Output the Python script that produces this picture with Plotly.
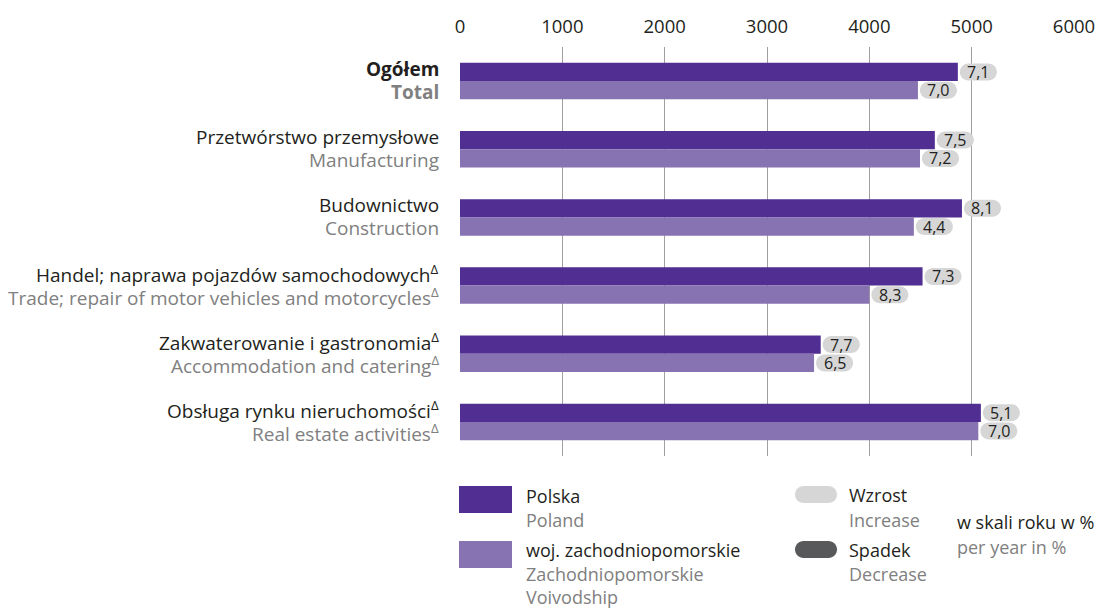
import plotly.graph_objects as go

# --- data ---
categories_pl = [
    "<b>Ogółem</b>",
    "Przetwórstwo przemysłowe",
    "Budownictwo",
    "Handel; naprawa pojazdów samochodowych<sup>Δ</sup>",
    "Zakwaterowanie i gastronomia<sup>Δ</sup>",
    "Obsługa rynku nieruchomości<sup>Δ</sup>",
]
categories_en = [
    "<b>Total</b>",
    "Manufacturing",
    "Construction",
    "Trade; repair of motor vehicles and motorcycles<sup>Δ</sup>",
    "Accommodation and catering<sup>Δ</sup>",
    "Real estate activities<sup>Δ</sup>",
]
poland = [4865, 4640, 4905, 4520, 3525, 5090]
region = [4475, 4495, 4435, 4000, 3460, 5065]
poland_change = [7.1, 7.5, 8.1, 7.3, 7.7, 5.1]
region_change = [7.0, 7.2, 4.4, 8.3, 6.5, 7.0]
x_ticks = [0, 1000, 2000, 3000, 4000, 5000, 6000]

# --- style ---
C_PL = "#512E91"
C_REG = "#8773B2"
C_UP = "#D6D6D7"
C_DOWN = "#58595B"
C_TXT = "#231F20"
C_GREY = "#808080"
FONT = "Open Sans"

W, H = 1104, 609
OFF = 8  # page body margin
L, R, T, B = 460, 1074, 47, 456
BARGAP = 0.464
bw = (1 - BARGAP) / 2


def px(x):
    return (x - L) / (R - L)


def py(y):
    return (B - y) / (B - T)


def pill_path(x0, w=37, h=17):
    r = h / 2
    k = r * 0.5523
    x1 = x0 + w
    return (f"M {x0 + r},{-r} L {x1 - r},{-r} "
            f"C {x1 - r + k},{-r} {x1},{-k} {x1},0 "
            f"C {x1},{k} {x1 - r + k},{r} {x1 - r},{r} "
            f"L {x0 + r},{r} "
            f"C {x0 + r - k},{r} {x0},{k} {x0},0 "
            f"C {x0},{-k} {x0 + r - k},{-r} {x0 + r},{-r} Z")


idx = list(range(len(poland)))

fig = go.Figure()
fig.add_trace(go.Bar(y=idx, x=poland, orientation="h", marker_color=C_PL,
                     name="Polska", marker_line_width=0))
fig.add_trace(go.Bar(y=idx, x=region, orientation="h", marker_color=C_REG,
                     name="woj. zachodniopomorskie", marker_line_width=0))

shapes = []
annotations = []

# category labels, two lines each
for i, (a, b) in enumerate(zip(categories_pl, categories_en)):
    for txt, ys, col in [(a, 12, C_TXT), (b, -11, C_GREY)]:
        annotations.append(dict(x=px(441), y=i, xref="paper", yref="y", yshift=ys,
                                text=txt, showarrow=False, xanchor="right",
                                yanchor="middle", font=dict(size=19, color=col)))

# change pills
for vals, chg, off in [(poland, poland_change, -bw / 2), (region, region_change, bw / 2)]:
    for i, (v, c) in enumerate(zip(vals, chg)):
        shapes.append(dict(type="path", xref="x", yref="y", xsizemode="pixel",
                           ysizemode="pixel", xanchor=v, yanchor=i + off,
                           path=pill_path(2), fillcolor=C_UP if c >= 0 else C_DOWN,
                           line_width=0, layer="above"))
        annotations.append(dict(x=v, y=i + off, xref="x", yref="y", xshift=20.5,
                                text=f"{c:.1f}".replace(".", ","), showarrow=False,
                                height=16,
                                font=dict(size=16, color=C_TXT if c >= 0 else "white"),
                                xanchor="center", yanchor="middle"))

# legend (drawn by hand)
shapes.append(dict(type="rect", xref="paper", yref="paper", x0=px(459), x1=px(512),
                   y0=py(513), y1=py(486), fillcolor=C_PL, line_width=0))
shapes.append(dict(type="rect", xref="paper", yref="paper", x0=px(459), x1=px(512),
                   y0=py(568), y1=py(541), fillcolor=C_REG, line_width=0))
for yy, col in [(494.5, C_UP), (549.5, C_DOWN)]:
    shapes.append(dict(type="path", xref="paper", yref="paper", xsizemode="pixel",
                       ysizemode="pixel", xanchor=px(795), yanchor=py(yy),
                       path=pill_path(0, w=42, h=17), fillcolor=col, line_width=0))

legend_texts = [
    ("Polska", 524, 496, C_TXT), ("Poland", 524, 520, C_GREY),
    ("woj. zachodniopomorskie", 524, 550, C_TXT),
    ("Zachodniopomorskie", 524, 574, C_GREY), ("Voivodship", 524, 597, C_GREY),
    ("Wzrost", 847, 495, C_TXT), ("Increase", 847, 520, C_GREY),
    ("Spadek", 847, 550, C_TXT), ("Decrease", 847, 574, C_GREY),
    ("w skali roku w %", 955, 522, C_TXT), ("per year in %", 955, 547, C_GREY),
]
for txt, x, y, col in legend_texts:
    annotations.append(dict(x=px(x), y=py(y), xref="paper", yref="paper", text=txt,
                            showarrow=False, xanchor="left", yanchor="middle",
                            height=22, font=dict(size=18, color=col)))

fig.update_layout(
    width=W - OFF, height=H - OFF,
    margin=dict(l=L - OFF, r=W - R, t=T - OFF, b=H - B),
    barmode="group", bargap=BARGAP, bargroupgap=0,
    plot_bgcolor="white", paper_bgcolor="white",
    font=dict(family=FONT, color=C_TXT, size=18),
    showlegend=False,
    shapes=shapes, annotations=annotations,
)
fig.update_xaxes(side="top", range=[0, 6000], tickvals=x_ticks,
                 ticktext=[str(t) for t in x_ticks], showgrid=True,
                 gridcolor="#A0A0A0", gridwidth=1, zeroline=False, showline=False,
                 ticks="outside", ticklen=6, tickcolor="rgba(0,0,0,0)",
                 automargin=False, tickfont=dict(size=18.5, color=C_TXT))
fig.update_yaxes(range=[5.5, -0.5], tickvals=idx, showticklabels=False, showgrid=False,
                 zeroline=False, showline=False, automargin=False)

fig.write_html("out.html")
